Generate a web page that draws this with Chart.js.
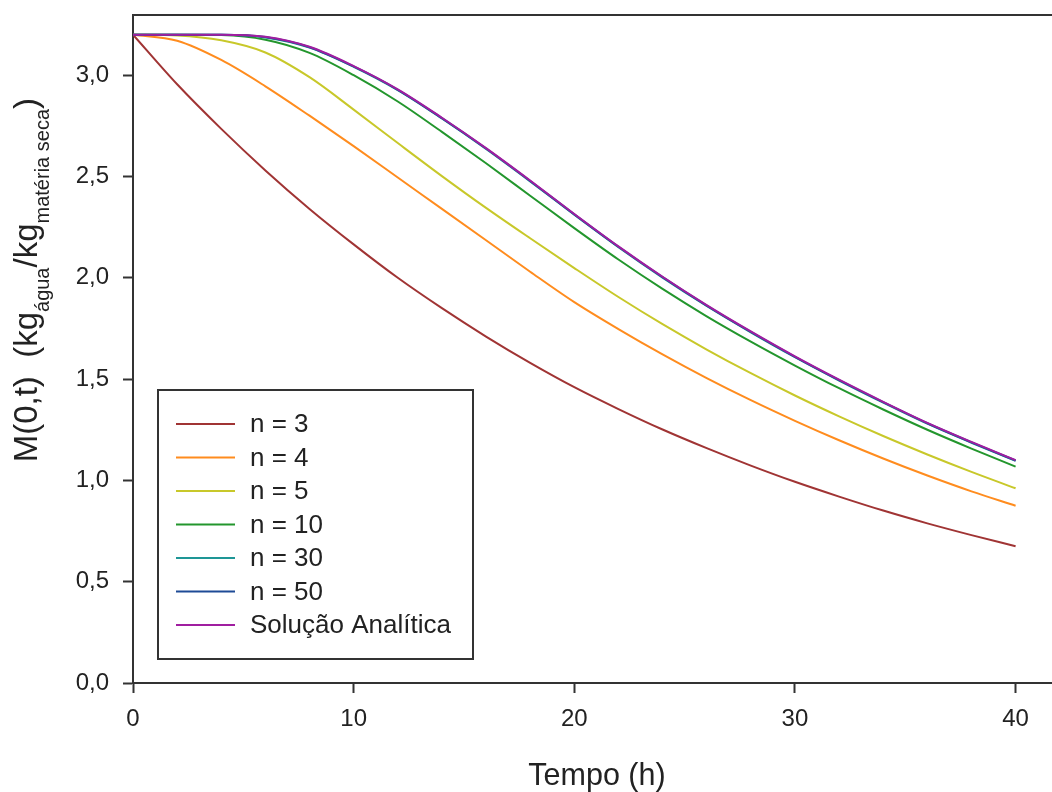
<!DOCTYPE html>
<html><head><meta charset="utf-8">
<script src="https://cdn.jsdelivr.net/npm/chart.js@4/dist/chart.umd.min.js"></script>
<style>html,body{margin:0;padding:0;background:#fff;}</style>
</head><body>
<canvas id="c" width="1052" height="792" style="width:1052px;height:792px;display:block"></canvas>
<script>
const times = [0,2,4,6,8,10,12,14,16,18,20,22,24,26,28,30,32,34,36,38,40];
const n3  = [3.20,2.955,2.735,2.53,2.34,2.165,2.00,1.85,1.71,1.58,1.46,1.352,1.251,1.159,1.073,0.993,0.920,0.851,0.788,0.730,0.675];
const n4  = [3.20,3.17,3.075,2.945,2.80,2.65,2.495,2.34,2.185,2.03,1.88,1.747,1.622,1.505,1.396,1.294,1.198,1.108,1.024,0.946,0.875];
const n5  = [3.20,3.196,3.172,3.112,2.99,2.83,2.665,2.502,2.345,2.195,2.048,1.905,1.771,1.646,1.529,1.419,1.316,1.219,1.128,1.042,0.961];
const n10 = [3.20,3.20,3.198,3.175,3.11,3.00,2.87,2.72,2.565,2.405,2.245,2.09,1.945,1.81,1.685,1.567,1.455,1.35,1.25,1.157,1.068];
const n30 = [3.20,3.20,3.199,3.186,3.136,3.041,2.926,2.786,2.636,2.476,2.311,2.151,2.001,1.861,1.731,1.608,1.493,1.384,1.280,1.186,1.096];
const n50 = [3.20,3.20,3.20,3.188,3.138,3.043,2.928,2.788,2.638,2.478,2.313,2.153,2.003,1.863,1.733,1.610,1.495,1.386,1.282,1.188,1.098];
const analitica = [3.20,3.20,3.20,3.19,3.14,3.045,2.93,2.79,2.64,2.48,2.315,2.155,2.005,1.865,1.735,1.612,1.497,1.388,1.284,1.19,1.10];
const seriesLabels = ['n = 3','n = 4','n = 5','n = 10','n = 30','n = 50','Solução Analítica'];
const seriesColors = ['#a03434','#ff8c1e','#c8c82a','#23962d','#1e9696','#1e4b96','#a01ea0'];
const xTicks = [0,10,20,30,40];
const yTicks = [0,0.5,1.0,1.5,2.0,2.5,3.0];
const xTitle = 'Tempo (h)';
const yTitleParts = [['M(0,t)  (kg',0],['água',1],['/kg',0],['matéria seca',1],[')',0]];

const allSeries = [n3,n4,n5,n10,n30,n50,analitica];
const FONT = '"Liberation Sans", Arial, sans-serif';
const datasets = allSeries.map((s,i)=>({
  label: seriesLabels[i],
  data: times.map((t,j)=>({x:t,y:s[j]})),
  borderColor: seriesColors[i],
  backgroundColor: seriesColors[i],
  borderWidth: 2,
  pointRadius: 0,
  cubicInterpolationMode: 'monotone',
  order: allSeries.length - i
}));

const frame = {
  id:'frame',
  afterDraw(chart){
    const {ctx, chartArea:a} = chart;
    ctx.save();
    ctx.strokeStyle='#333'; ctx.lineWidth=2;
    ctx.beginPath(); ctx.moveTo(a.left-1, a.top); ctx.lineTo(chart.width, a.top); ctx.stroke();
    // legend
    const bx=158, by=390, bw=315, bh=269;
    ctx.fillStyle='#fff'; ctx.fillRect(bx,by,bw,bh);
    ctx.strokeRect(bx,by,bw,bh);
    ctx.font = '26px '+FONT; ctx.textBaseline='middle'; ctx.textAlign='left';
    chart.data.datasets.forEach((d,i)=>{
      const y = 424 + i*33.5;
      ctx.strokeStyle=d.borderColor; ctx.lineWidth=2;
      ctx.beginPath(); ctx.moveTo(176,y); ctx.lineTo(235,y); ctx.stroke();
      ctx.fillStyle='#222'; ctx.fillText(d.label, 250, y+1);
    });
    // x title
    ctx.font='30.5px '+FONT; ctx.textAlign='center'; ctx.textBaseline='alphabetic'; ctx.fillStyle='#222';
    ctx.fillText(xTitle, 597, 785);
    // y title
    const mainF='33px '+FONT, subF='20px '+FONT;
    let total=0;
    yTitleParts.forEach(([t,s])=>{ctx.font=s?subF:mainF; total+=ctx.measureText(t).width;});
    ctx.translate(0, 98 + total); ctx.rotate(-Math.PI/2);
    ctx.textAlign='left'; ctx.textBaseline='alphabetic';
    let px=0;
    yTitleParts.forEach(([t,s])=>{ctx.font=s?subF:mainF; ctx.fillText(t, px, s?49:37); px+=ctx.measureText(t).width;});
    ctx.restore();
  }
};

new Chart(document.getElementById('c'), {
  type:'line',
  data:{datasets},
  options:{
    responsive:false, animation:false, devicePixelRatio:1,
    layout:{padding:{top:15,right:0,left:0,bottom:0}},
    plugins:{legend:{display:false}, tooltip:{enabled:false}},
    scales:{
      x:{type:'linear', min:0, max:41.65,
        border:{display:true,color:'#333',width:2},
        grid:{drawOnChartArea:false, drawTicks:true, tickLength:10, tickWidth:2, tickColor:'#333'},
        ticks:{font:{size:24,family:FONT}, color:'#222', padding:12, maxRotation:0, callback:v=>String(v)},
        afterBuildTicks:s=>{s.ticks = xTicks.map(v=>({value:v}));},
        afterFit:s=>{s.height=109; s.paddingLeft=0; s.paddingRight=0;}
      },
      y:{type:'linear', min:0, max:3.297,
        border:{display:true,color:'#333',width:2},
        grid:{drawOnChartArea:false, drawTicks:true, tickLength:10, tickWidth:2, tickColor:'#333'},
        ticks:{font:{size:24,family:FONT}, color:'#222', padding:14, callback:v=>v.toFixed(1).replace('.',',')},
        afterBuildTicks:s=>{s.ticks = yTicks.map(v=>({value:v}));},
        afterFit:s=>{s.width=133; s.paddingTop=0; s.paddingBottom=0;}
      }
    }
  },
  plugins:[frame]
});
</script>
</body></html>
